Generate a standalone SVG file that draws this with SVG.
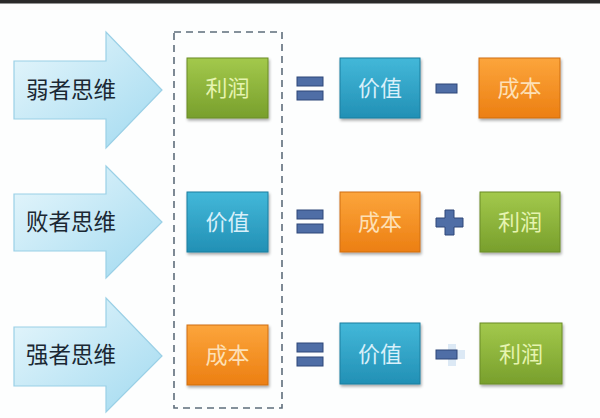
<svg xmlns="http://www.w3.org/2000/svg" width="600" height="418" viewBox="0 0 600 418">
<defs>
<linearGradient id="gArrow" x1="0" y1="0" x2="1" y2="1">
<stop offset="0" stop-color="#e8f7fc"/>
<stop offset="1" stop-color="#a2daf0"/>
</linearGradient>
<linearGradient id="gGreen" x1="0" y1="0" x2="0" y2="1">
<stop offset="0" stop-color="#a3c94c"/>
<stop offset="1" stop-color="#789f2c"/>
</linearGradient>
<linearGradient id="gBlue" x1="0" y1="0" x2="0" y2="1">
<stop offset="0" stop-color="#43b8d9"/>
<stop offset="1" stop-color="#2290b5"/>
</linearGradient>
<linearGradient id="gOrange" x1="0" y1="0" x2="0" y2="1">
<stop offset="0" stop-color="#fca53c"/>
<stop offset="1" stop-color="#ec7f12"/>
</linearGradient>
<filter id="sh" x="-10%" y="-10%" width="125%" height="130%">
<feGaussianBlur in="SourceAlpha" stdDeviation="1.5"/>
<feOffset dx="1" dy="2" result="b"/>
<feComponentTransfer><feFuncA type="linear" slope="0.35"/></feComponentTransfer>
<feMerge><feMergeNode/><feMergeNode in="SourceGraphic"/></feMerge>
</filter>
</defs>
<style>
.arrow{fill:url(#gArrow);stroke:#9ad0e6;stroke-width:1.2}
.lbl{font-family:"Noto Sans CJK SC","Noto Sans",sans-serif;font-size:22.5px;fill:#1b2833}
.box{stroke-width:1;filter:url(#sh)}
.green{fill:url(#gGreen);stroke:#6a8c26}
.blue{fill:url(#gBlue);stroke:#1d7e9f}
.orange{fill:url(#gOrange);stroke:#d06f10}
.bt{font-family:"Noto Sans CJK SC","Noto Sans",sans-serif;font-size:22px;text-anchor:middle}
.tg{fill:#e6f4b0}
.tb{fill:#d8f0fa}
.to{fill:#fde0b6}
.op{fill:#4f6ea6;stroke:#2e4778;stroke-width:1}
.dash{fill:none;stroke:#5e6d7b;stroke-width:1.6;stroke-dasharray:7 5}
</style>
<rect x="0" y="0" width="600" height="418" fill="#fdfefe"/>
<rect x="0" y="0" width="600" height="3.5" fill="#2a2a2a"/>

<g id="frame">
<rect class="dash" x="174" y="32" width="108" height="376"/>
</g>

<g id="row1">
<g id="arrow1">
<path class="arrow" d="M14,61 L106,61 L106,32 L162,90 L106,148 L106,119 L14,119 Z"/>
<text class="lbl" x="26" y="98">弱者思维</text>
</g>
<g id="r1-profit"><rect class="box green" x="187" y="58" width="81" height="60"/><text class="bt tg" x="227.5" y="96">利润</text></g>
<g id="r1-value"><rect class="box blue" x="340" y="58" width="80" height="60"/><text class="bt tb" x="380" y="96">价值</text></g>
<g id="r1-cost"><rect class="box orange" x="479" y="58" width="81" height="60"/><text class="bt to" x="519.5" y="96">成本</text></g>
</g>

<g id="row2">
<g id="arrow2">
<path class="arrow" d="M14,194 L106,194 L106,166 L162,222 L106,278 L106,251 L14,251 Z"/>
<text class="lbl" x="26" y="230">败者思维</text>
</g>
<g id="r2-value"><rect class="box blue" x="187" y="192" width="81" height="60"/><text class="bt tb" x="227.5" y="230">价值</text></g>
<g id="r2-cost"><rect class="box orange" x="340" y="192" width="80" height="60"/><text class="bt to" x="380" y="230">成本</text></g>
<g id="r2-profit"><rect class="box green" x="480" y="192" width="80" height="60"/><text class="bt tg" x="520" y="230">利润</text></g>
</g>

<g id="row3">
<g id="arrow3">
<path class="arrow" d="M14,327 L106,327 L106,298 L162,356 L106,412 L106,386 L14,386 Z"/>
<text class="lbl" x="26" y="363">强者思维</text>
</g>
<g id="r3-cost"><rect class="box orange" x="187" y="325" width="81" height="60"/><text class="bt to" x="227.5" y="363">成本</text></g>
<g id="r3-value"><rect class="box blue" x="340" y="323" width="80" height="61"/><text class="bt tb" x="380" y="362">价值</text></g>
<g id="r3-profit"><rect class="box green" x="480" y="323" width="82" height="61"/><text class="bt tg" x="521" y="362">利润</text></g>
</g>

<g id="operators">
<rect class="op" x="297" y="77" width="26" height="9"/>
<rect class="op" x="297" y="91" width="26" height="9"/>
<rect class="op" x="436" y="84" width="21" height="9"/>

<rect class="op" x="297" y="210" width="26" height="9"/>
<rect class="op" x="297" y="224" width="26" height="9"/>
<path class="op" d="M445,210 L454,210 L454,218 L463,218 L463,227 L454,227 L454,235 L445,235 L445,227 L436,227 L436,218 L445,218 Z"/>

<rect class="op" x="297" y="343" width="26" height="9"/>
<rect class="op" x="297" y="357" width="26" height="9"/>
<path d="M448,344 L456,344 L456,350 L465,350 L465,359 L456,359 L456,366 L448,366 Z" fill="#9fc4e6" opacity="0.35"/>
<rect class="op" x="436" y="350" width="21" height="9"/>
</g>
</svg>
